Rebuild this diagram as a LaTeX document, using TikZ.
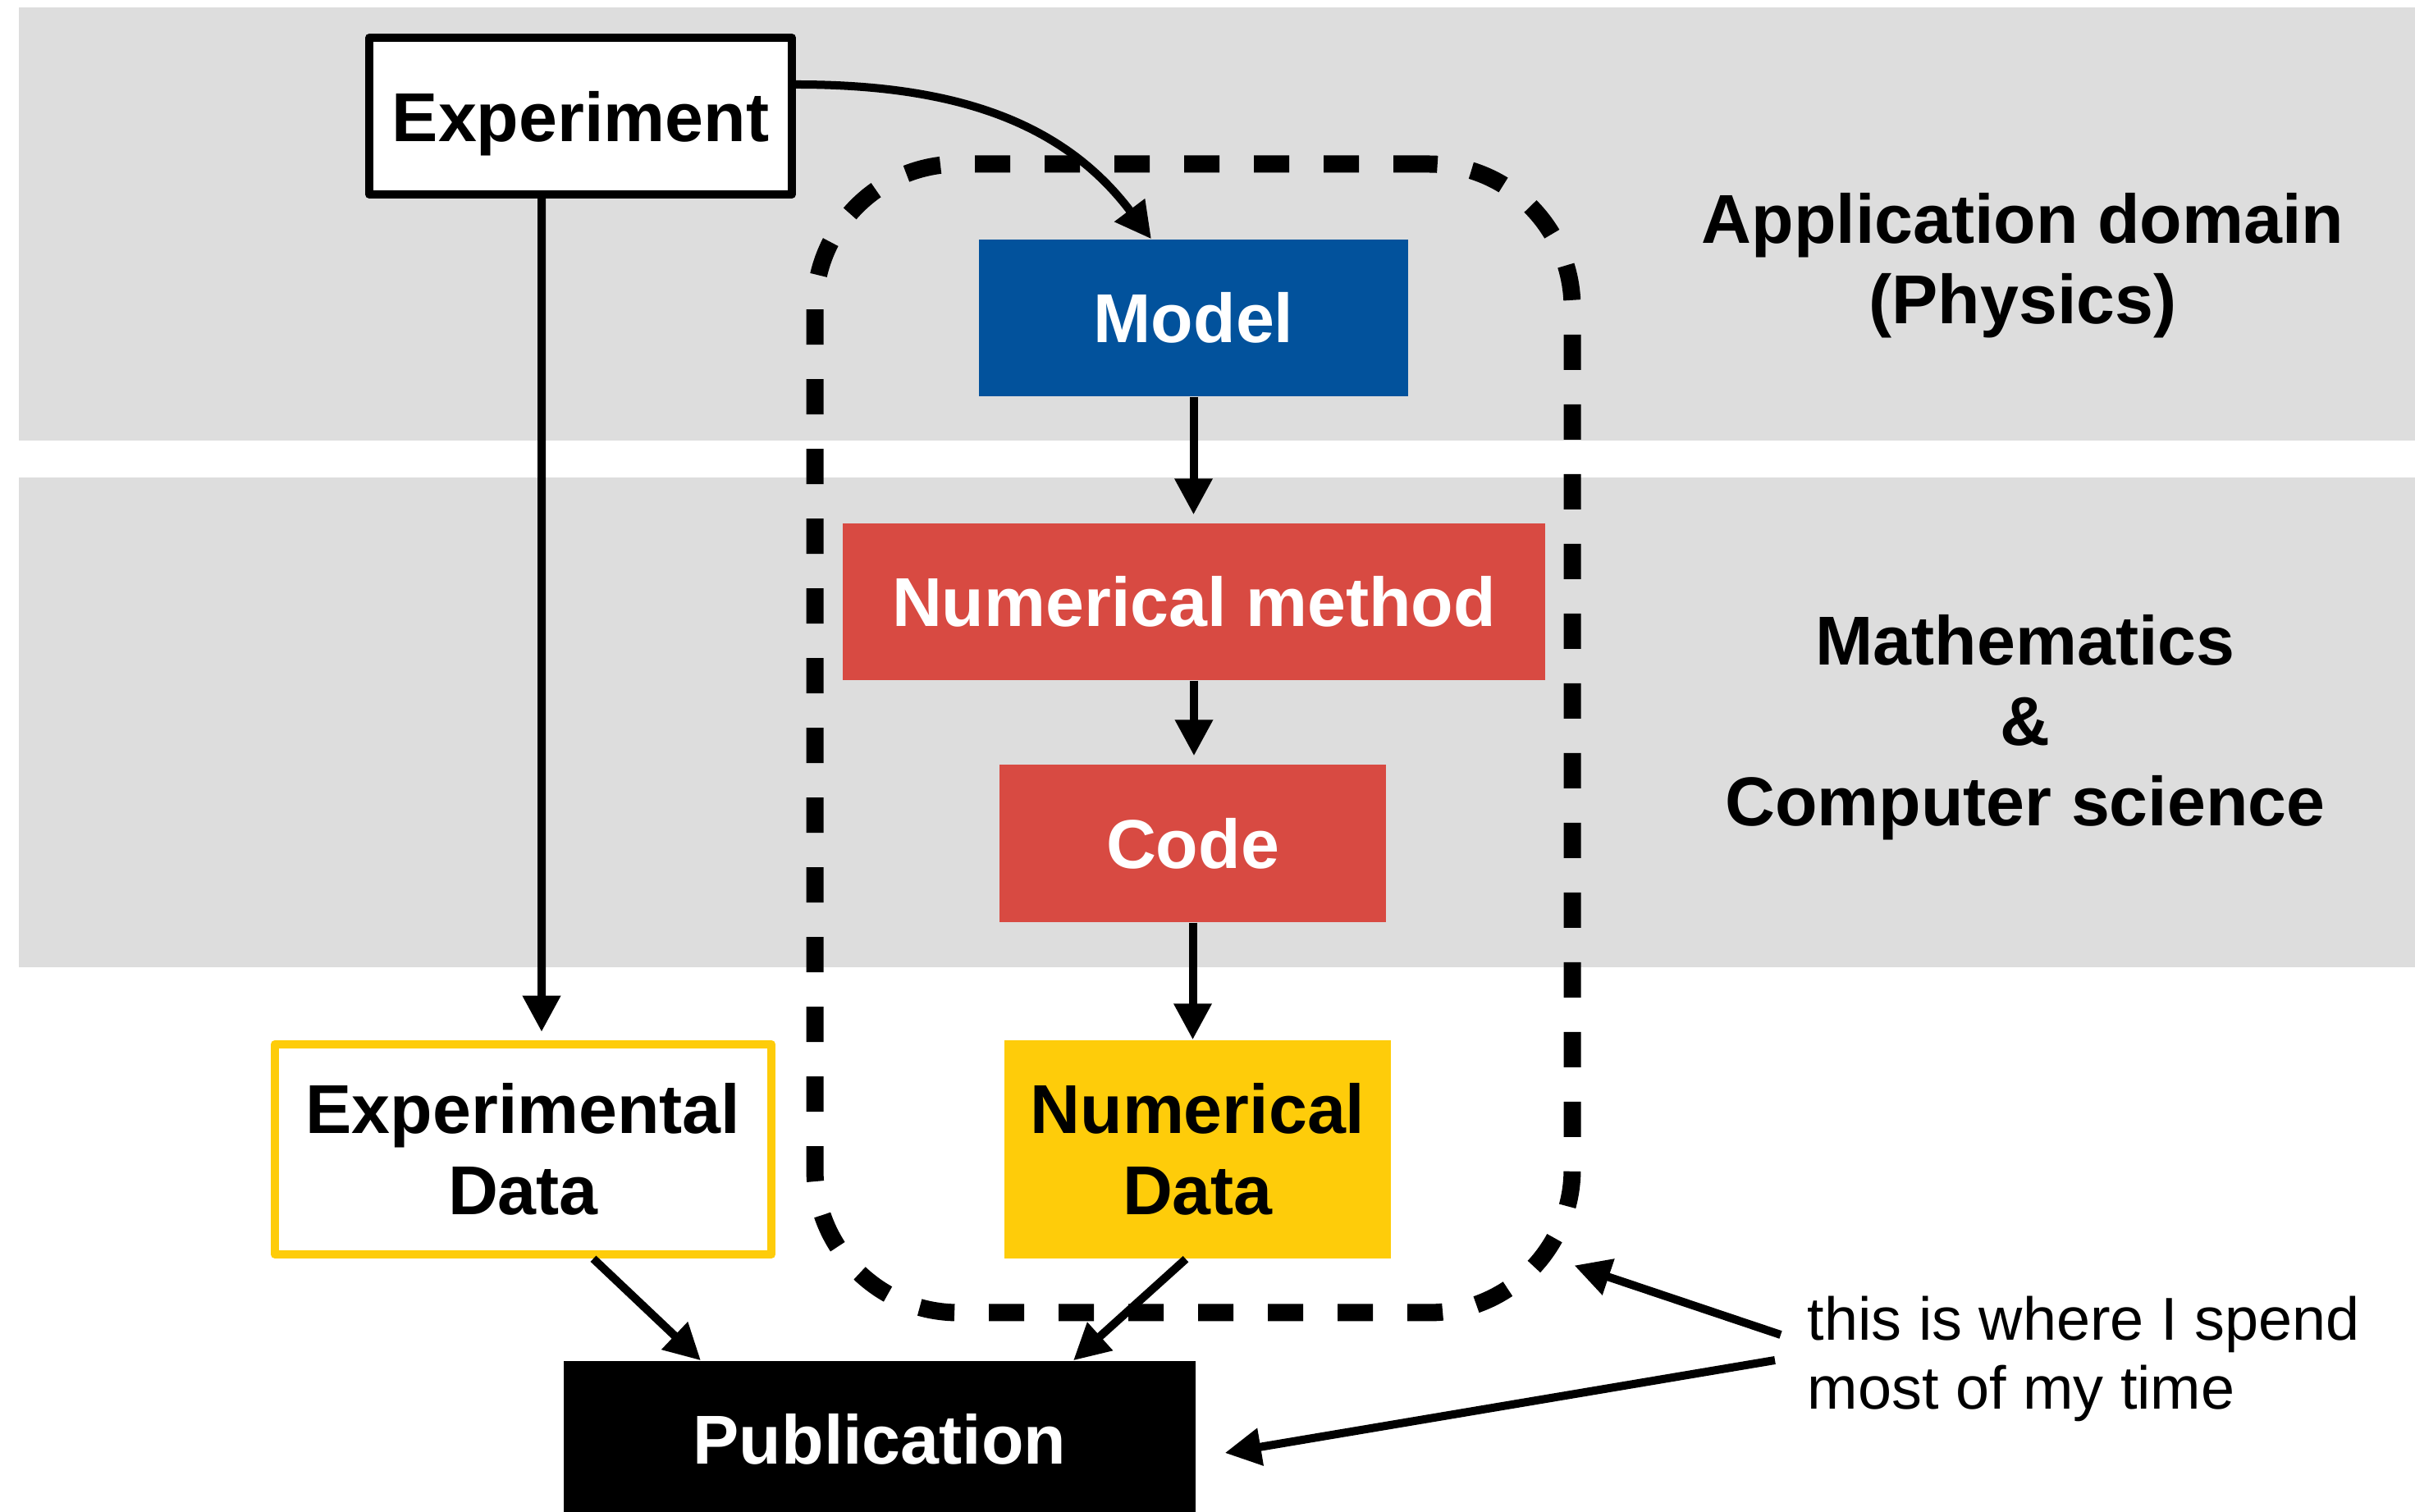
\documentclass[tikz,border=0pt]{standalone}
\usepackage{fontspec}
\setmainfont{Liberation Sans}
\usetikzlibrary{arrows.meta}
\definecolor{bandgray}{HTML}{DDDDDD}
\definecolor{modelblue}{HTML}{02529C}
\definecolor{boxred}{HTML}{D84A42}
\definecolor{datayellow}{HTML}{FECC0A}
\begin{document}
\begin{tikzpicture}[
  box/.style={rectangle, inner sep=0pt, align=center, font=\fontsize{24}{28}\selectfont\bfseries},
  colbox/.style={box, text=white},
  sidelabel/.style={inner sep=0pt, align=center, anchor=base, font=\fontsize{24}{28}\selectfont\bfseries},
  arr/.style={line width=0.1cm, -{Triangle[length=0.44cm,width=0.44cm]}},
  focusbox/.style={draw, line width=0.21cm, dash pattern=on 0.43cm off 0.42cm, rounded corners=1.75cm, inner sep=0pt}
]
\useasboundingbox (0,0) rectangle (29.43,-18.43);
% bands
\fill[bandgray] (0.23,-0.09) rectangle (29.43,-5.37);
\fill[bandgray] (0.23,-5.82) rectangle (29.43,-11.79);
% dashed focus region
\node[focusbox, minimum width=9.23cm, minimum height=14.0cm] (focus) at (14.545,-9.0) {};
% boxes
\node[box, draw, line width=0.1cm, line join=round, fill=white, text depth=0pt, minimum width=5.15cm, minimum height=1.91cm] (exp) at (7.075,-1.415) {Experiment};
\node[colbox, fill=modelblue, minimum width=5.23cm, minimum height=1.91cm] (model) at (14.545,-3.875) {Model};
\node[colbox, fill=boxred, minimum width=8.56cm, minimum height=1.91cm] (nm) at (14.55,-7.335) {Numerical method};
\node[colbox, fill=boxred, minimum width=4.71cm, minimum height=1.92cm] (code) at (14.535,-10.28) {Code};
\node[box, fill=datayellow, minimum width=4.71cm, minimum height=2.66cm] (nd) at (14.595,-14.01) {Numerical\\Data};
\node[box, draw=datayellow, line width=0.105cm, line join=round, fill=white, minimum width=6.05cm, minimum height=2.56cm] (ed) at (6.375,-14.01) {Experimental\\Data};
\node[colbox, fill=black, minimum width=7.70cm, minimum height=1.91cm] (pub) at (10.72,-17.545) {Publication};
% side labels
\node[sidelabel] (phys) at (24.65,-3.95) {Application domain\\(Physics)};
\node[sidelabel] (math) at (24.68,-10.07) {Mathematics\\\&\\Computer science};
\node[inner sep=0pt, anchor=base west, align=left, font=\fontsize{21}{24}\selectfont] (note) at (22.02,-17.18) {this is where I spend\\most of my time};
% arrows
\draw[arr] ([xshift=-4.75mm]exp.south) -- ([xshift=2.25mm,yshift=1mm]ed.north);
\draw[arr] ([yshift=3.85mm]exp.east) to[out=0,in=127] ([xshift=-5.15mm]model.north);
\draw[arr, shorten >=1mm] (model.south) -- (model.south |- nm.north);
\draw[arr, shorten >=1mm] (nm.south) -- (nm.south |- code.north);
\draw[arr] (code.south) -- (code.south |- nd.north);
\draw[arr] ([xshift=8.55mm]ed.south) -- ([xshift=-21.8mm]pub.north);
\draw[arr] ([xshift=-1.45mm]nd.south) -- ([xshift=23.6mm]pub.north);
\draw[arr] ([shift={(-0.32,0.91)}]note.base west) -- ([shift={(-0.08,0.68)}]focus.south east);
\draw[arr] ([shift={(-0.39,0.60)}]note.base west) -- ([shift={(0.35,-0.165)}]pub.east);
\end{tikzpicture}
\end{document}
